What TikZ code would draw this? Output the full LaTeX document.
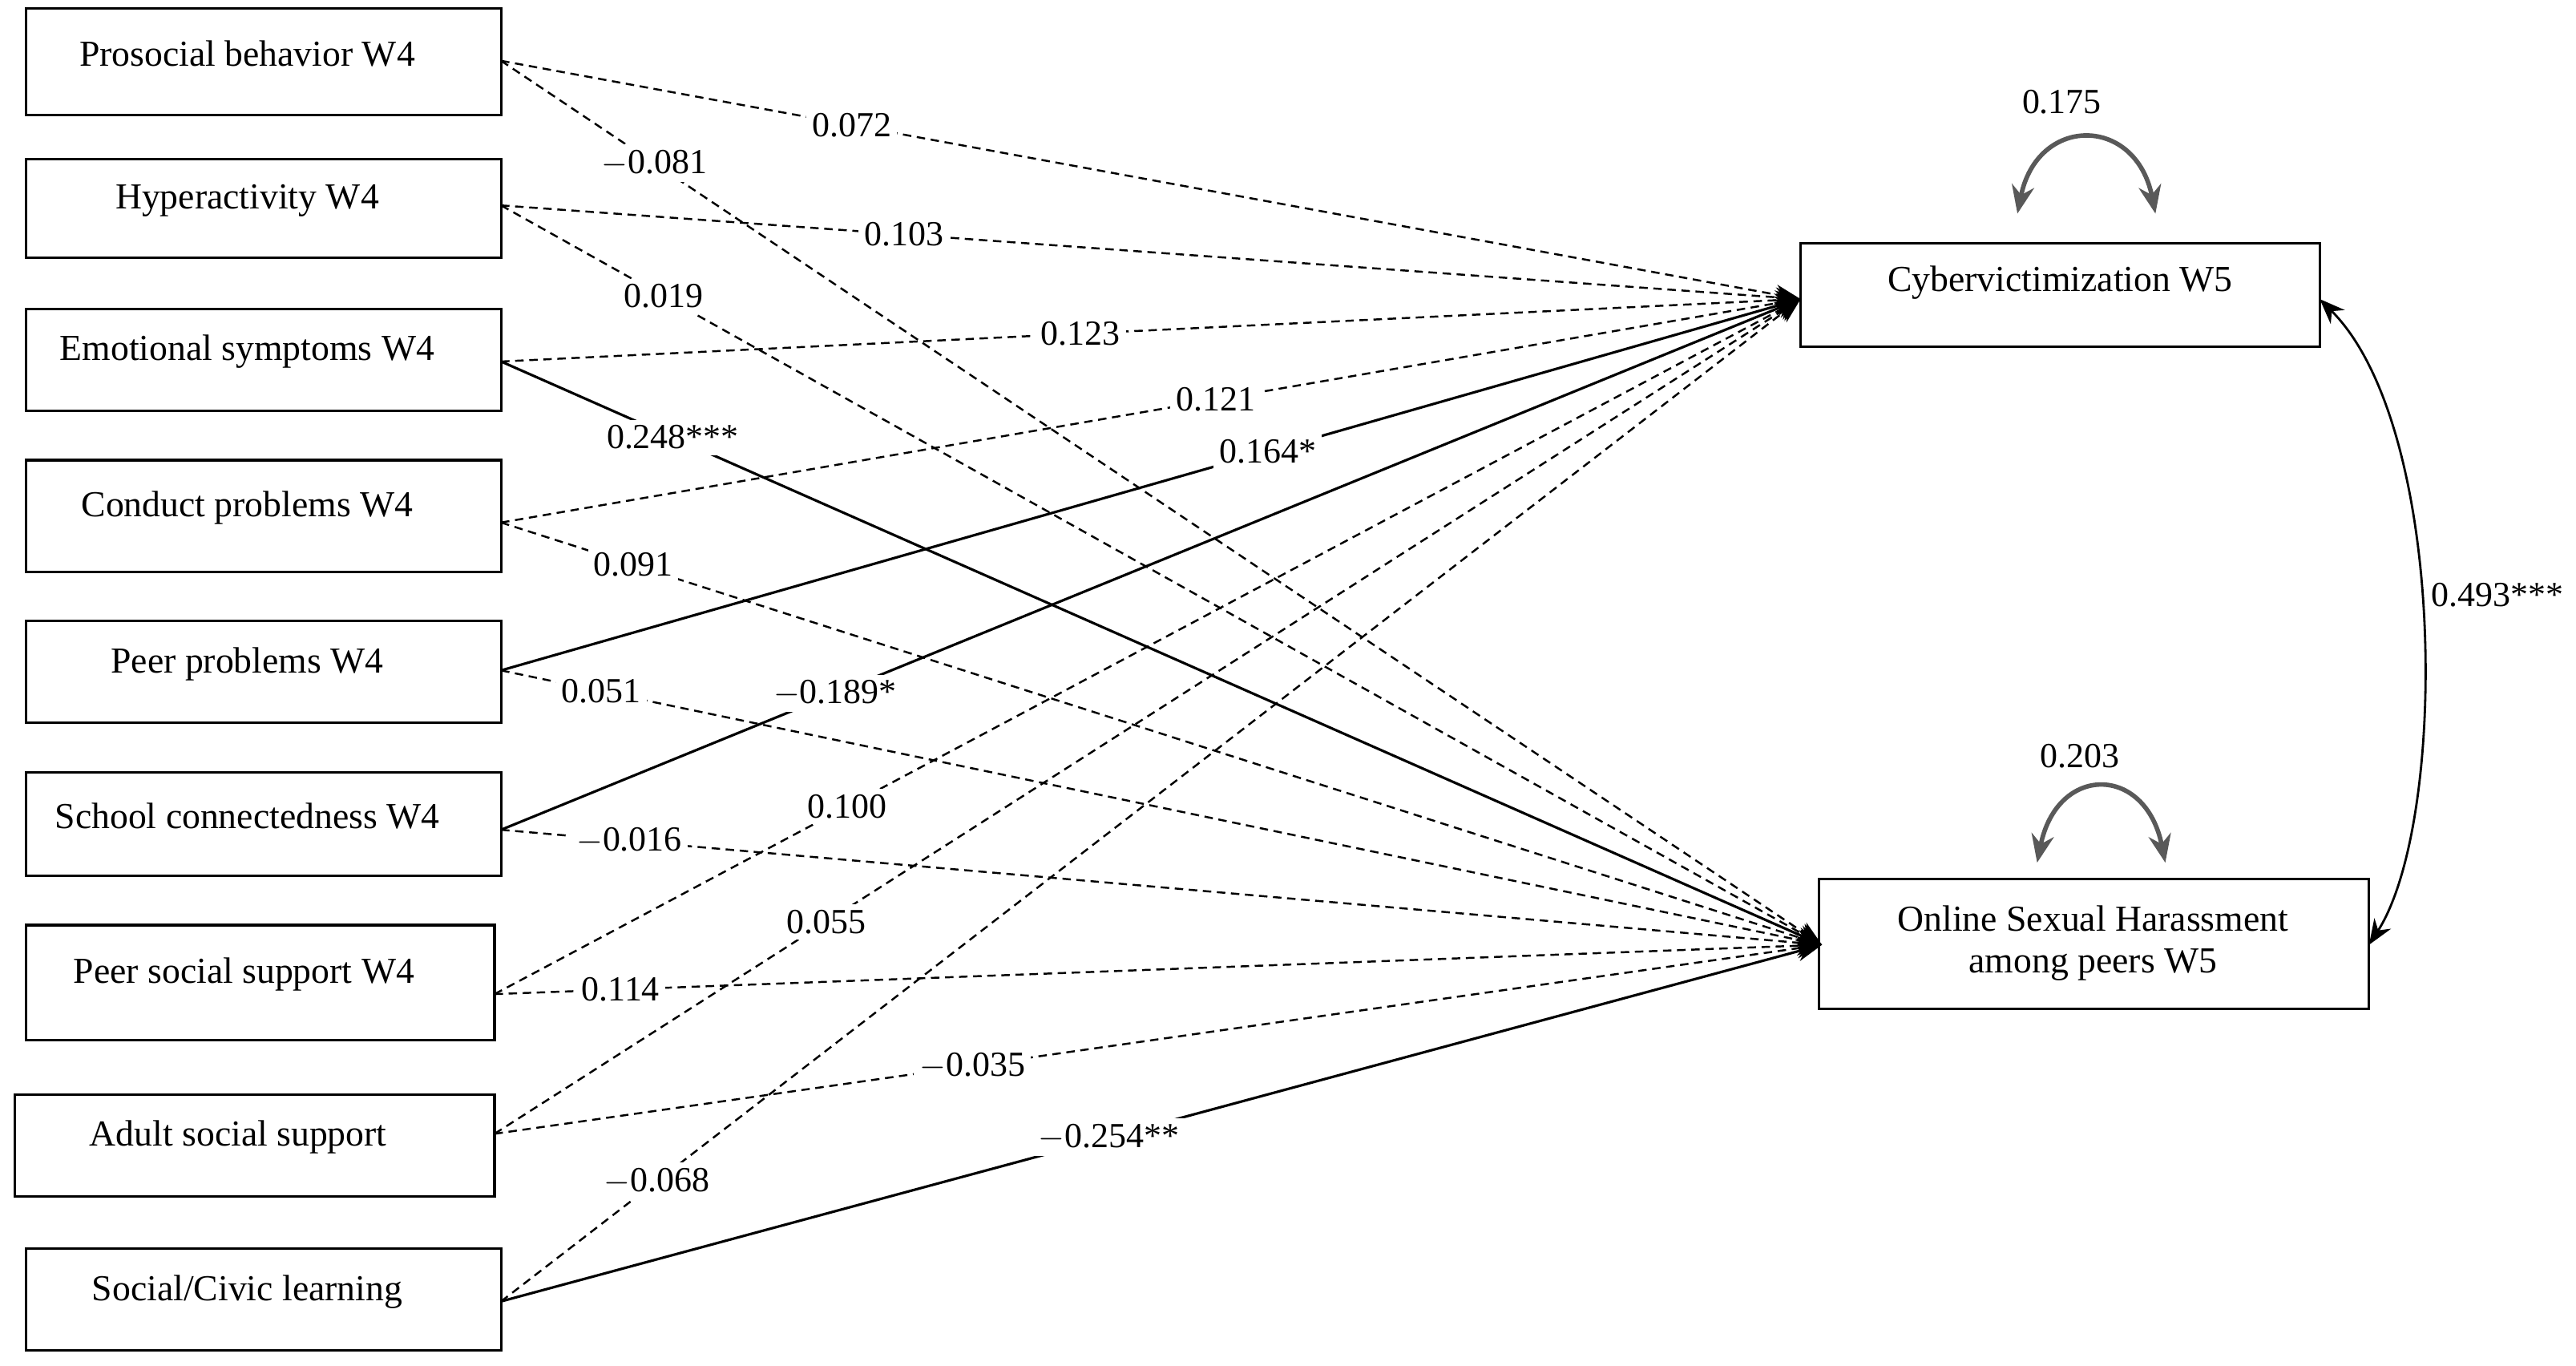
\documentclass[tikz,border=0pt]{standalone}
\usepackage{fontspec}
\setmainfont{Liberation Serif}
\usetikzlibrary{arrows.meta}
\begin{document}
\begin{tikzpicture}[x=0.0205cm,y=-0.0205cm,
 box/.style={draw,line width=0.9pt,font=\fontsize{13}{15}\selectfont},
 lab/.style={fill=white,inner sep=2pt,font=\fontsize{12.5}{15}\selectfont},
 ns/.style={densely dashed,line width=0.7pt,-{Stealth[length=9pt,width=7pt]}},
 sg/.style={line width=0.9pt,-{Stealth[length=9pt,width=7pt]}}]
\useasboundingbox (0,0) rectangle (1568,831);
\newcommand{\lbox}[6]{\draw[line width=0.9pt] (#2,#3) rectangle (#4,#5); \node[font=\fontsize{13}{15}\selectfont] (#1) at ({(#2+#4)/2-10},{(#3+#5)/2-5}) {#6};}
\lbox{b1}{16}{5}{305}{70}{Prosocial behavior W4}
\lbox{b2}{16}{97}{305}{157}{Hyperactivity W4}
\lbox{b3}{16}{188}{305}{250}{Emotional symptoms W4}
\lbox{b4}{16}{280}{305}{348}{Conduct problems W4}
\lbox{b5}{16}{378}{305}{440}{Peer problems W4}
\lbox{b6}{16}{470}{305}{533}{School connectedness W4}
\lbox{b7}{16}{563}{301}{633}{Peer social support W4}
\lbox{b8}{9}{666}{301}{728}{Adult social support}
\lbox{b9}{16}{760}{305}{822}{Social/Civic learning}
\draw[line width=0.9pt] (1096,148) rectangle (1412,211);
\node[font=\fontsize{13}{15}\selectfont] (cv) at (1254,172) {Cybervictimization W5};
\draw[line width=0.9pt] (1107,535) rectangle (1442,614);
\node[font=\fontsize{13}{15}\selectfont,align=center] (osh) at (1274,574) {Online Sexual Harassment\\among peers W5};
\coordinate (c1) at (305,37); \coordinate (c2) at (305,125); \coordinate (c3) at (305,220);
\coordinate (c4) at (305,318); \coordinate (c5) at (305,408); \coordinate (c6) at (305,505);
\coordinate (c7) at (301,605); \coordinate (c8) at (301,690); \coordinate (c9) at (305,792);
\coordinate (tc) at (1096,182); \coordinate (to) at (1109,575);
\draw[ns] (c1) -- node[lab,pos=0.27]{0.072} (tc);
\draw[ns] (c1) -- node[lab,pos=0.116]{$-$0.081} (to);
\draw[ns] (c2) -- node[lab,pos=0.31]{0.103} (tc);
\draw[ns] (c2) -- node[lab,pos=0.123]{0.019} (to);
\draw[ns] (c3) -- node[lab,pos=0.446]{0.123} (tc);
\draw[sg] (c3) -- node[lab,pos=0.13]{0.248***} (to);
\draw[ns] (c4) -- node[lab,pos=0.55]{0.121} (tc);
\draw[ns] (c4) -- node[lab,pos=0.10]{0.091} (to);
\draw[sg] (c5) -- node[lab,pos=0.59]{0.164*} (tc);
\draw[ns] (c5) -- node[lab,pos=0.076]{0.051} (to);
\draw[sg] (c6) -- node[lab,pos=0.257]{$-$0.189*} (tc);
\draw[ns] (c6) -- node[lab,pos=0.097]{$-$0.016} (to);
\draw[ns] (c7) -- node[lab,pos=0.27]{0.100} (tc);
\draw[ns] (c7) -- node[lab,pos=0.095]{0.114} (to);
\draw[ns] (c8) -- node[lab,pos=0.254]{0.055} (tc);
\draw[ns] (c8) -- node[lab,pos=0.36]{$-$0.035} (to);
\draw[ns] (c9) -- node[lab,pos=0.12]{$-$0.068} (tc);
\draw[sg] (c9) -- node[lab,pos=0.46]{$-$0.254**} (to);
\draw[gray!70!black,line width=1.6pt,{Stealth[length=10pt,width=8pt]}-{Stealth[length=10pt,width=8pt]}] (1228,130) .. controls (1240,70) and (1300,70) .. (1312,130);
\node[font=\fontsize{12.5}{15}\selectfont] (v1) at (1255,62) {0.175};
\draw[gray!70!black,line width=1.6pt,{Stealth[length=10pt,width=8pt]}-{Stealth[length=10pt,width=8pt]}] (1240,525) .. controls (1252,465) and (1306,465) .. (1318,525);
\node[font=\fontsize{12.5}{15}\selectfont] (v2) at (1266,460) {0.203};
\draw[line width=0.8pt,{Stealth[length=9pt,width=7pt]}-{Stealth[length=9pt,width=7pt]}] (1412,182) .. controls (1490,260) and (1490,500) .. (1442,575);
\node[font=\fontsize{12.5}{15}\selectfont] (cov) at (1520,362) {0.493***};
\end{tikzpicture}
\end{document}
